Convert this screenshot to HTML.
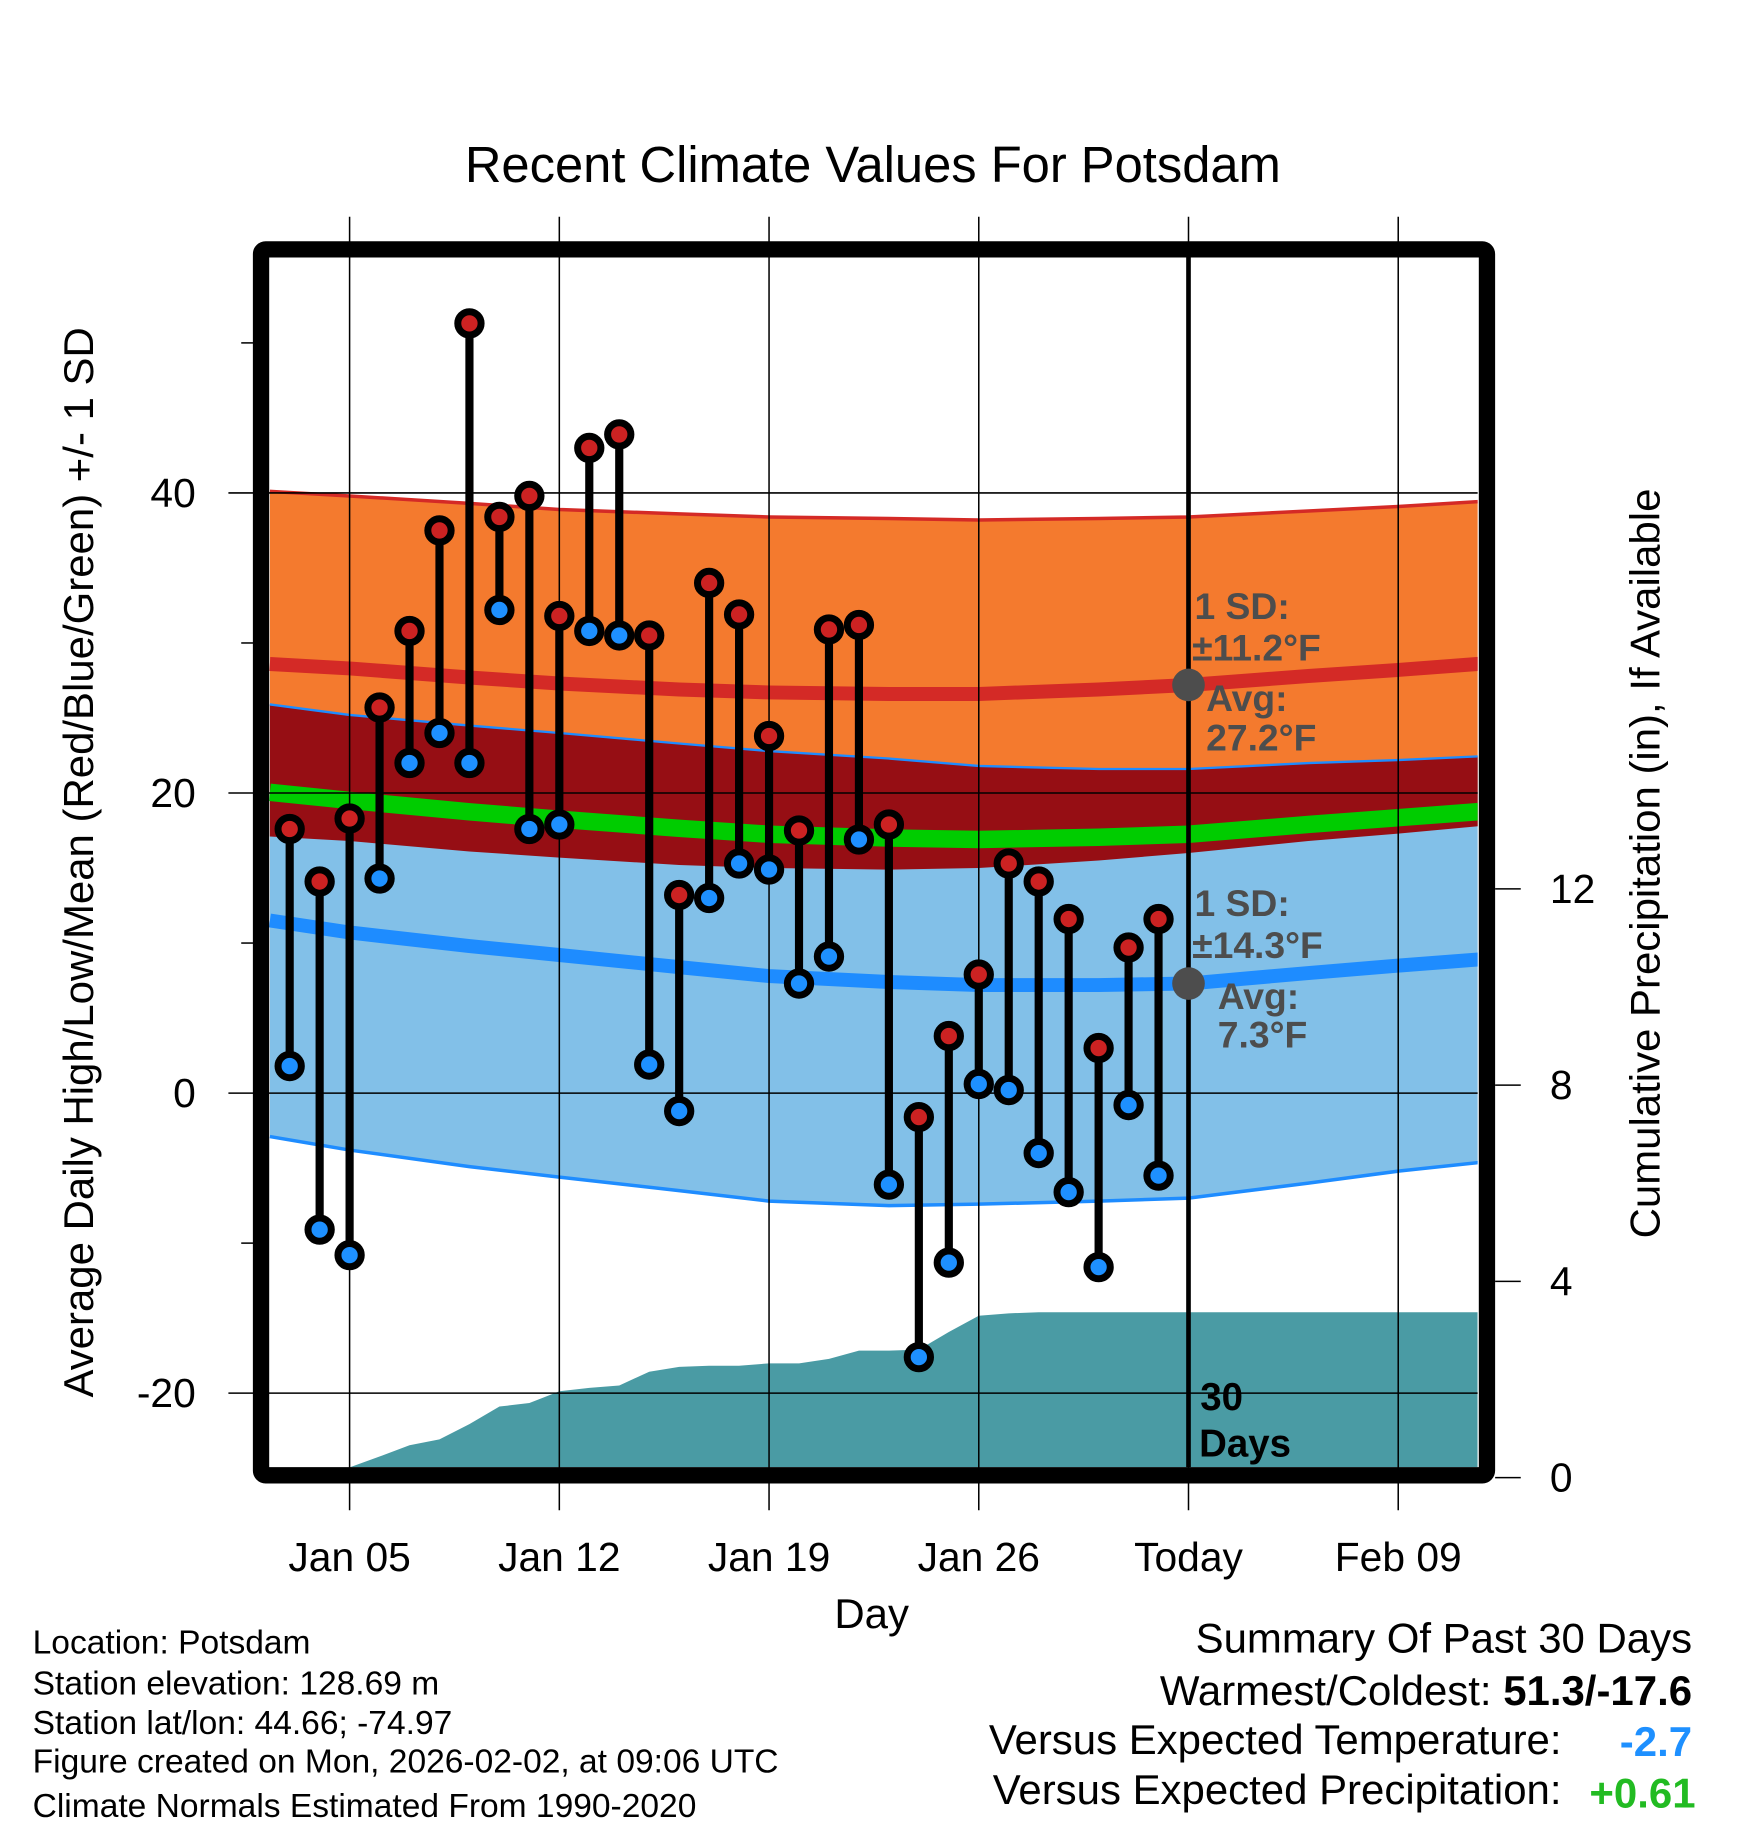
<!DOCTYPE html>
<html><head><meta charset="utf-8"><style>
html,body{margin:0;padding:0;background:#fff;}
svg{display:block;font-family:"Liberation Sans",Arial,sans-serif;}
</style></head><body>
<svg id="chart" width="1748" height="1828" viewBox="0 0 1500 1568.65" xmlns="http://www.w3.org/2000/svg">
<text x="749" y="156" font-size="43.5" text-anchor="middle">Recent Climate Values For Potsdam</text>
<g id="layer"></g>
</svg>
<script>
// ---- data ----
const obsDays = [3,4,5,6,7,8,9,10,11,12,13,14,15,16,17,18,19,20,21,22,23,24,25,26,27,28,29,30,31,32];
const highs = [17.6,14.1,18.3,25.7,30.8,37.5,51.3,38.4,39.8,31.8,43.0,43.9,30.5,13.2,34.0,31.9,23.8,17.5,30.9,31.2,17.9,-1.6,3.8,7.9,15.3,14.1,11.6,3.0,9.7,11.6];
const lows = [1.8,-9.1,-10.8,14.3,22.0,24.0,22.0,32.2,17.6,17.9,30.8,30.5,1.9,-1.2,13.0,15.3,14.9,7.3,9.1,16.9,-6.1,-17.6,-11.3,0.6,0.2,-4.0,-6.6,-11.6,-0.8,-5.5];
const precip = [0,0,0.21,0.43,0.66,0.78,1.09,1.45,1.52,1.76,1.83,1.88,2.16,2.26,2.28,2.28,2.33,2.33,2.42,2.59,2.59,2.61,2.97,3.30,3.35,3.37,3.37,3.37,3.37,3.37];
const normDays = [2.34,5,9,12,16,19,23,26,30,33,37,40,43.3];
const avgHigh = [28.6,28.3,27.7,27.3,26.9,26.7,26.6,26.6,26.9,27.2,27.8,28.2,28.7];
const avgLow = [11.5,10.7,9.8,9.2,8.4,7.8,7.4,7.2,7.2,7.3,8.0,8.5,9.0];
const sdHigh = [11.5,11.5,11.6,11.6,11.7,11.7,11.7,11.6,11.4,11.2,11.0,10.9,10.8];
const sdLow = [14.4,14.5,14.7,14.8,14.9,15.0,14.9,14.6,14.4,14.3,14.0,13.7,13.5];
const tempTicks = [-20,0,20,40];
const tempMinor = [-10,10,30,50];
const precipTicks = [0,4,8,12];
const xTickDays = [5,12,19,26,33,40];
const xTickLabels = ["Jan 05","Jan 12","Jan 19","Jan 26","Today","Feb 09"];
const todayDay = 33;

// ---- axes ----
const L=231,R=1268,T=221,B=1259;
const x = d => 300 + (d-5)*25.71;
const y = v => 938 - 12.875*v;
const yp = p => 1268 - 42.1*p;
const NS="http://www.w3.org/2000/svg";
const layer=document.getElementById('layer');
function mk(tag,attrs,parent){const e=document.createElementNS(NS,tag);for(const k in attrs)e.setAttribute(k,attrs[k]);(parent||layer).appendChild(e);return e;}
const clipDefs=mk('defs',{});
const cp=mk('clipPath',{id:'plotclip'},clipDefs);mk('rect',{x:L,y:T,width:R-L,height:B-T},cp);
const plot=mk('g',{'clip-path':'url(#plotclip)'});



function line(arr){return arr.map((v,i)=>x(normDays[i]).toFixed(1)+','+y(v).toFixed(1));}
function band(top,bot){return line(top).concat(line(bot).reverse()).join(' ');}
const hiUp=avgHigh.map((v,i)=>v+sdHigh[i]), hiDn=avgHigh.map((v,i)=>v-sdHigh[i]);
const loUp=avgLow.map((v,i)=>v+sdLow[i]), loDn=avgLow.map((v,i)=>v-sdLow[i]);
const mean=avgHigh.map((v,i)=>(v+avgLow[i])/2);

let e;
e=mk('polygon',{points:band(hiUp,hiDn),fill:'#f47a2e'},plot);


e=mk('polygon',{points:band(loUp,loDn),fill:'#82c0e8'},plot);


e=mk('polygon',{points:band(loUp,hiDn),fill:'#960e14'},plot);


e=mk('polyline',{points:line(hiUp).join(' '),fill:'none',stroke:'#d42a26','stroke-width':3},plot);


e=mk('polyline',{points:line(loUp).join(' '),fill:'none',stroke:'#1e8cff','stroke-width':2},plot);


e=mk('polyline',{points:line(loDn).join(' '),fill:'none',stroke:'#1e8cff','stroke-width':3},plot);


e=mk('polyline',{points:line(avgHigh).join(' '),fill:'none',stroke:'#d42a26','stroke-width':12},plot);


e=mk('polyline',{points:line(avgLow).join(' '),fill:'none',stroke:'#1e8cff','stroke-width':12},plot);


e=mk('polyline',{points:line(mean).join(' '),fill:'none',stroke:'#00cc00','stroke-width':15},plot);



// precip area
let pts=[x(obsDays[0])+','+yp(0)];
obsDays.forEach((d,i)=>pts.push(x(d).toFixed(1)+','+yp(precip[i]).toFixed(1)));
pts.push(R+','+yp(precip[precip.length-1]).toFixed(1));
pts.push(R+','+yp(0));
e=mk('polygon',{points:pts.join(' '),fill:'#4a9ba4'},plot);



// grid
xTickDays.forEach((d,i)=>{
  e=mk('line',{x1:x(d),x2:x(d),y1:186,y2:1296,stroke:'#000','stroke-width':1.3});
  
  
  e=mk('text',{x:x(d),y:1348,'font-size':35,'text-anchor':'middle'});
  e.textContent=xTickLabels[i];
  
  
});
tempTicks.forEach(v=>{
  e=mk('line',{x1:196,x2:1268,y1:y(v),y2:y(v),stroke:'#000','stroke-width':1.3});
  
  
  e=mk('text',{x:168,y:y(v)+12,'font-size':35,'text-anchor':'end'});
  e.textContent=v;
  
  
});
tempMinor.forEach(v=>{
  e=mk('line',{x1:207,x2:220,y1:y(v),y2:y(v),stroke:'#000','stroke-width':1.3});
  
  
});
precipTicks.forEach(p=>{
  e=mk('line',{x1:1283,x2:1305,y1:yp(p),y2:yp(p),stroke:'#000','stroke-width':1.3});
  
  
  e=mk('text',{x:1330,y:yp(p)+12,'font-size':35});
  e.textContent=p;
  
  
});

// today line
e=mk('line',{x1:x(todayDay),x2:x(todayDay),y1:T,y2:B,stroke:'#000','stroke-width':4});



// annotations
const ann=[["1 SD:",1025,531],["\u00b111.2\u00b0F",1023,567],["Avg:",1035,610],["27.2\u00b0F",1035,644],
           ["1 SD:",1025,786],["\u00b114.3\u00b0F",1023,822],["Avg:",1045,866],["7.3\u00b0F",1045,899]];
ann.forEach(a=>{
  e=mk('text',{x:a[1],y:a[2],'font-size':32,'font-weight':'bold',fill:'#4d4d4d'});
  e.textContent=a[0];
  
  
});
e=mk('circle',{cx:x(todayDay),cy:y(avgHigh[9]),r:14,fill:'#4d4d4d'});


e=mk('circle',{cx:x(todayDay),cy:y(avgLow[9]),r:14,fill:'#4d4d4d'});



// stems and points
obsDays.forEach((d,i)=>{
  e=mk('line',{x1:x(d),x2:x(d),y1:y(highs[i]),y2:y(lows[i]),stroke:'#000','stroke-width':7});
  
  
  e=mk('circle',{cx:x(d),cy:y(highs[i]),r:10,fill:'#cc2222',stroke:'#000','stroke-width':6});
  
  
  e=mk('circle',{cx:x(d),cy:y(lows[i]),r:10,fill:'#1e90ff',stroke:'#000','stroke-width':6});
  
  
});

// frame
e=mk('rect',{x:224,y:214,width:1052,height:1052,rx:4,fill:'none',stroke:'#000','stroke-width':14});



e=mk('text',{x:1030,y:1210,'font-size':33,'font-weight':'bold'});
e.textContent='30';


e=mk('text',{x:1029,y:1250,'font-size':33,'font-weight':'bold'});
e.textContent='Days';



// axis titles
e=mk('text',{x:0,y:0,'font-size':36,'text-anchor':'middle',transform:'translate(80,740) rotate(-90)'});
e.textContent='Average Daily High/Low/Mean (Red/Blue/Green) +/- 1 SD';


e=mk('text',{x:0,y:0,'font-size':36,'text-anchor':'middle',transform:'translate(1424,741) rotate(-90)'});
e.textContent='Cumulative Precipitation (in), If Available';


e=mk('text',{x:748,y:1397,'font-size':36,'text-anchor':'middle'});
e.textContent='Day';



// info
const info=["Location: Potsdam","Station elevation: 128.69 m","Station lat/lon: 44.66; -74.97","Figure created on Mon, 2026-02-02, at 09:06 UTC","Climate Normals Estimated From 1990-2020"];
const infoY=[1419,1454,1488,1521,1559];
info.forEach((t,i)=>{
  e=mk('text',{x:28,y:infoY[i],'font-size':28.8});
  e.textContent=t;
  
  
});
</script>
<svg style="position:absolute;left:0;top:0" width="1748" height="1828" viewBox="0 0 1500 1568.65" font-family="Liberation Sans, Arial, sans-serif">
<g>
<text x="1452" y="1418" font-size="36" text-anchor="end">Summary Of Past 30 Days</text>
<text x="1452" y="1463" font-size="36" text-anchor="end">Warmest/Coldest: <tspan font-weight="bold">51.3/-17.6</tspan></text>
<text x="1340" y="1505" font-size="36" text-anchor="end">Versus Expected Temperature:</text>
<text x="1452" y="1507" font-size="36" font-weight="bold" fill="#1e90ff" text-anchor="end">-2.7</text>
<text x="1340" y="1548" font-size="36" text-anchor="end">Versus Expected Precipitation:</text>
<text x="1455" y="1551" font-size="36" font-weight="bold" fill="#22bb22" text-anchor="end">+0.61</text>
</g>
</svg>
</body></html>
